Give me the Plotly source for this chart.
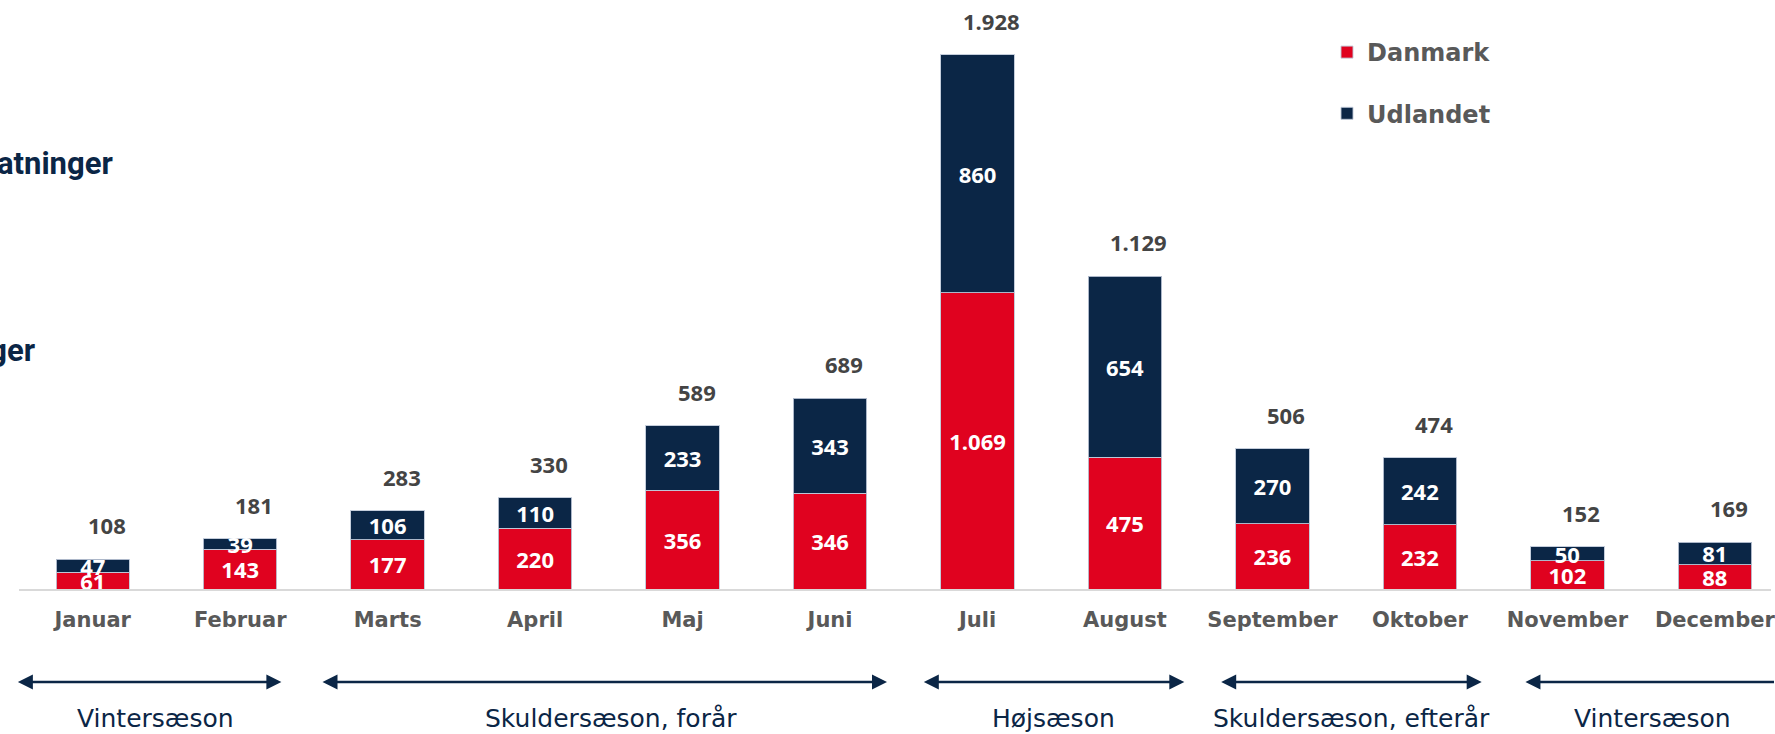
import plotly.graph_objects as go

months = ["Januar", "Februar", "Marts", "April", "Maj", "Juni", "Juli",
          "August", "September", "Oktober", "November", "December"]
danmark = [61, 143, 177, 220, 356, 346, 1069, 475, 236, 232, 102, 88]
udlandet = [47, 39, 106, 110, 233, 343, 860, 654, 270, 242, 50, 81]
totals = [108, 181, 283, 330, 589, 689, 1928, 1129, 506, 474, 152, 169]

seasons = ["Vintersæson", "Skuldersæson, forår", "Højsæson",
           "Skuldersæson, efterår", "Vintersæson"]

RED = "#E0021F"
NAVY = "#0B2646"
W, H = 1775, 734
ML, MB = 19, 145
PW, PH = W - ML, H - MB


def fmt(v):
    return f"{v:,}".replace(",", ".")


def px_x(p):
    return (p - ML) / PW


def px_y(p):
    return (PH - p) / PH


num_font = dict(family="Open Sans", size=22, color="white", weight=700)
bar_line = dict(color="rgba(190,200,215,0.9)", width=1)

fig = go.Figure()
fig.add_trace(go.Bar(
    x=months, y=danmark, name="Danmark", marker=dict(color=RED, line=bar_line),
    text=[fmt(v) for v in danmark], textposition="inside", insidetextanchor="middle",
    textangle=0, constraintext="none", textfont=num_font, legendgroup="a",
    hoverinfo="x+y+name",
))
fig.add_trace(go.Bar(
    x=months, y=udlandet, name="Udlandet", marker=dict(color=NAVY, line=bar_line),
    text=[fmt(v) for v in udlandet], textposition="inside", insidetextanchor="middle",
    textangle=0, constraintext="none", textfont=num_font, legendgroup="b",
    hoverinfo="x+y+name",
))

annotations = []
for m, d, u, t in zip(months, danmark, udlandet, totals):
    annotations.append(dict(
        x=m, y=d + u, xref="x", yref="y", text=fmt(t), showarrow=False,
        xshift=14, yshift=34, yanchor="middle",
        font=dict(family="Open Sans", size=22, color="#444444", weight=700),
    ))

# season arrows (pixel positions)
arrow_spans = [(17, 282), (323, 889), (925, 1187), (1223, 1485), (1528, 1790)]
label_centers = [156, 612, 1056, 1355, 1656]
for i, ((a, b), c, s) in enumerate(zip(arrow_spans, label_centers, seasons)):
    last = i == len(seasons) - 1
    annotations.append(dict(
        x=px_x(b), y=px_y(682), xref="paper", yref="paper",
        ax=-(b - a), ay=0, axref="pixel", ayref="pixel",
        text="", showarrow=True, arrowside="start" if last else "end+start",
        arrowhead=2, startarrowhead=2, arrowsize=1.2, startarrowsize=1.2,
        arrowwidth=2.5, arrowcolor=NAVY, standoff=0, startstandoff=0,
    ))
    annotations.append(dict(
        x=px_x(c), y=px_y(718), xref="paper", yref="paper", text=s,
        showarrow=False, xanchor="center", yanchor="middle",
        font=dict(family="DejaVu Sans", size=25, color=NAVY),
    ))

# cut-off side titles at left edge
annotations.append(dict(
    x=px_x(115), y=px_y(164), xref="paper", yref="paper",
    text="Antal overnatninger", showarrow=False, xanchor="right", yanchor="middle",
    font=dict(family="Roboto", size=31, color=NAVY, weight=700),
))
annotations.append(dict(
    x=px_x(37), y=px_y(350), xref="paper", yref="paper",
    text="Antal bookinger", showarrow=False, xanchor="right", yanchor="middle",
    font=dict(family="Roboto", size=31, color=NAVY, weight=700),
))

fig.update_layout(
    width=W, height=H,
    margin=dict(l=ML, r=0, t=0, b=MB, pad=0),
    barmode="stack", bargap=0.502,
    plot_bgcolor="white", paper_bgcolor="white",
    showlegend=True,
    legend=dict(
        x=px_x(1330), y=px_y(30), xanchor="left", yanchor="top",
        traceorder="grouped", tracegroupgap=27,
        font=dict(family="DejaVu Sans", size=24, color="#595959", weight=700),
        bgcolor="rgba(0,0,0,0)",
    ),
    xaxis=dict(
        range=[-0.5, -0.5 + PW / 147.8], showgrid=False, zeroline=False,
        showline=True, linecolor="#d9d9d9", linewidth=2, ticks="",
        ticklabelstandoff=11,
        tickfont=dict(family="DejaVu Sans", size=21, color="#595959", weight=700),
        fixedrange=True,
    ),
    yaxis=dict(
        range=[0, PH / (534 / 1928)], visible=False, showgrid=False,
        zeroline=False, fixedrange=True,
    ),
    uniformtext=dict(minsize=22, mode="show"),
    annotations=annotations,
)

fig.write_html(
    "out.html",
    config={"displayModeBar": False},
    post_script="document.body.style.margin='0';document.body.style.overflow='hidden';",
)
